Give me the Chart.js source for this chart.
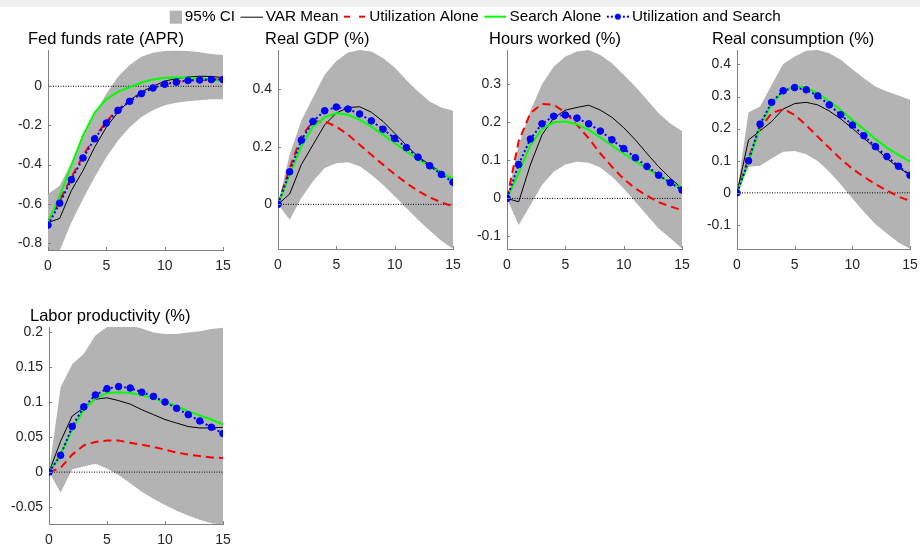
<!DOCTYPE html>
<html>
<head>
<meta charset="utf-8">
<script src="https://cdn.jsdelivr.net/npm/chart.js@4.4.0/dist/chart.umd.min.js"></script>
<style>
  body { margin: 0; background: #fff; width: 920px; height: 548px; position: relative; overflow: hidden; }
  #strip { position: absolute; left: 0; top: 0; width: 920px; height: 7px; background: #f0f0f0; }
  canvas { position: absolute; }
</style>
</head>
<body>
<div id="strip"></div>
<canvas id="legend" width="920" height="60" style="left:0;top:0"></canvas>
<canvas id="p1"></canvas>
<canvas id="p2"></canvas>
<canvas id="p3"></canvas>
<canvas id="p4"></canvas>
<canvas id="p5"></canvas>
<script>
// Impulse responses, horizons 0..15

const horizons = [0, 1, 2, 3, 4, 5, 6, 7, 8, 9, 10, 11, 12, 13, 14, 15];
const baseline = [0, 0, 0, 0, 0, 0, 0, 0, 0, 0, 0, 0, 0, 0, 0, 0];
const xTicks = [0, 5, 10, 15];

const legendLabels = ['95% CI', 'VAR Mean', 'Utilization Alone', 'Search Alone', 'Utilization and Search'];

// Fed funds rate (APR)
const ffrLow = [-0.92, -0.84, -0.696, -0.576, -0.465, -0.362, -0.277, -0.209, -0.157, -0.123, -0.097, -0.084, -0.077, -0.072, -0.067, -0.067];
const ffrHigh = [-0.55, -0.508, -0.39, -0.251, -0.14, -0.038, 0.048, 0.108, 0.15, 0.171, 0.18, 0.181, 0.18, 0.173, 0.164, 0.159];
const ffrVar = [-0.696, -0.675, -0.533, -0.431, -0.311, -0.209, -0.132, -0.072, -0.029, 0.0, 0.026, 0.039, 0.048, 0.051, 0.05, 0.044];
const ffrUtil = [-0.69, -0.585, -0.465, -0.355, -0.26, -0.18, -0.118, -0.073, -0.036, -0.008, 0.011, 0.022, 0.029, 0.032, 0.034, 0.035];
const ffrSearch = [-0.695, -0.56, -0.405, -0.251, -0.135, -0.067, -0.029, -0.005, 0.019, 0.034, 0.043, 0.044, 0.044, 0.04, 0.033, 0.027];
const ffrBoth = [-0.709, -0.597, -0.477, -0.366, -0.268, -0.188, -0.123, -0.077, -0.038, -0.009, 0.01, 0.021, 0.029, 0.032, 0.034, 0.034];
const ffrTicks = [-0.8, -0.6, -0.4, -0.2, 0];

// Real GDP (%)
const gdpLow = [0, -0.053, 0.022, 0.08, 0.126, 0.143, 0.146, 0.132, 0.103, 0.068, 0.028, -0.013, -0.053, -0.091, -0.126, -0.154];
const gdpHigh = [0, 0.172, 0.29, 0.371, 0.45, 0.498, 0.527, 0.536, 0.531, 0.508, 0.475, 0.432, 0.392, 0.357, 0.336, 0.325];
const gdpVar = [0, 0.036, 0.138, 0.207, 0.276, 0.317, 0.336, 0.339, 0.32, 0.288, 0.247, 0.205, 0.166, 0.138, 0.111, 0.086];
const gdpUtil = [0, 0.126, 0.236, 0.288, 0.288, 0.27, 0.242, 0.207, 0.172, 0.138, 0.105, 0.074, 0.047, 0.024, 0.007, -0.007];
const gdpSearch = [0, 0.103, 0.201, 0.27, 0.302, 0.317, 0.311, 0.294, 0.27, 0.242, 0.213, 0.184, 0.157, 0.132, 0.109, 0.089];
const gdpBoth = [0, 0.113, 0.223, 0.288, 0.325, 0.338, 0.331, 0.314, 0.29, 0.261, 0.229, 0.197, 0.164, 0.134, 0.104, 0.077];
const gdpTicks = [0, 0.2, 0.4];

// Hours worked (%)
const hrsLow = [0, -0.07, -0.018, 0.035, 0.07, 0.089, 0.096, 0.094, 0.081, 0.057, 0.026, -0.009, -0.044, -0.079, -0.105, -0.132];
const hrsHigh = [0, 0.14, 0.23, 0.3, 0.346, 0.373, 0.386, 0.39, 0.377, 0.355, 0.325, 0.294, 0.259, 0.224, 0.197, 0.177];
const hrsVar = [0, -0.009, 0.088, 0.167, 0.211, 0.232, 0.239, 0.245, 0.232, 0.213, 0.186, 0.154, 0.118, 0.083, 0.053, 0.026];
const hrsUtil = [0, 0.15, 0.224, 0.248, 0.246, 0.226, 0.193, 0.158, 0.118, 0.083, 0.051, 0.026, 0.007, -0.01, -0.021, -0.031];
const hrsSearch = [0, 0.066, 0.14, 0.182, 0.2, 0.202, 0.195, 0.18, 0.16, 0.139, 0.118, 0.098, 0.079, 0.06, 0.042, 0.026];
const hrsBoth = [0, 0.089, 0.156, 0.196, 0.216, 0.219, 0.211, 0.196, 0.177, 0.154, 0.131, 0.107, 0.084, 0.061, 0.041, 0.022];
const hrsTicks = [-0.1, 0, 0.1, 0.2, 0.3];

// Real consumption (%)
const conLow = [0, 0.081, 0.084, 0.107, 0.128, 0.13, 0.12, 0.099, 0.066, 0.026, -0.018, -0.059, -0.098, -0.127, -0.155, -0.174];
const conHigh = [0, 0.251, 0.269, 0.336, 0.401, 0.425, 0.443, 0.445, 0.435, 0.415, 0.385, 0.357, 0.331, 0.316, 0.303, 0.29];
const conVar = [0, 0.165, 0.193, 0.222, 0.261, 0.278, 0.282, 0.274, 0.255, 0.23, 0.201, 0.17, 0.139, 0.107, 0.078, 0.057];
const conUtil = [0, 0.107, 0.201, 0.248, 0.261, 0.243, 0.211, 0.175, 0.14, 0.105, 0.075, 0.05, 0.027, 0.007, -0.012, -0.025];
const conSearch = [0, 0.095, 0.206, 0.277, 0.316, 0.331, 0.328, 0.31, 0.286, 0.258, 0.227, 0.198, 0.168, 0.141, 0.118, 0.097];
const conBoth = [0, 0.1, 0.214, 0.282, 0.318, 0.328, 0.321, 0.302, 0.274, 0.243, 0.211, 0.178, 0.144, 0.113, 0.083, 0.055];
const conTicks = [-0.1, 0, 0.1, 0.2, 0.3, 0.4];

// Labor productivity (%)
const prodLow = [0, -0.029, 0.004, 0.008, 0.012, 0.005, -0.004, -0.016, -0.028, -0.038, -0.047, -0.055, -0.062, -0.068, -0.073, -0.075];
const prodHigh = [0, 0.121, 0.154, 0.169, 0.195, 0.207, 0.21, 0.209, 0.205, 0.199, 0.197, 0.197, 0.199, 0.201, 0.204, 0.206];
const prodVar = [0, 0.044, 0.08, 0.092, 0.104, 0.106, 0.102, 0.097, 0.089, 0.082, 0.075, 0.07, 0.065, 0.063, 0.063, 0.064];
const prodUtil = [0, 0.006, 0.025, 0.038, 0.043, 0.045, 0.045, 0.042, 0.039, 0.036, 0.032, 0.028, 0.025, 0.023, 0.021, 0.02];
const prodSearch = [0, 0.025, 0.061, 0.089, 0.105, 0.113, 0.114, 0.113, 0.11, 0.105, 0.1, 0.094, 0.087, 0.081, 0.075, 0.068];
const prodBoth = [0, 0.024, 0.065, 0.093, 0.11, 0.119, 0.122, 0.12, 0.114, 0.108, 0.1, 0.091, 0.082, 0.073, 0.064, 0.055];
const prodTicks = [-0.05, 0, 0.05, 0.1, 0.15, 0.2];

const FONT = '"Liberation Sans", Arial, Helvetica, sans-serif';
const TEXT = '#262626';
const AXIS = '#808080';
const CI_GRAY = '#b3b3b3';

// plot box of each panel, in page pixels
const panels = [
  { id: 'p1', title: 'Fed funds rate (APR)', left: 48, top: 50, width: 175, height: 200, titleLeft: 28, yMin: -0.836, yMax: 0.185, yTicks: ffrTicks,
    low: ffrLow, high: ffrHigh, mean: ffrVar, util: ffrUtil, search: ffrSearch, both: ffrBoth },
  { id: 'p2', title: 'Real GDP (%)', left: 278, top: 50, width: 175, height: 199, titleLeft: 265, yMin: -0.155, yMax: 0.536, yTicks: gdpTicks,
    low: gdpLow, high: gdpHigh, mean: gdpVar, util: gdpUtil, search: gdpSearch, both: gdpBoth },
  { id: 'p3', title: 'Hours worked (%)', left: 507, top: 50, width: 175, height: 199, titleLeft: 489, yMin: -0.133, yMax: 0.39, yTicks: hrsTicks,
    low: hrsLow, high: hrsHigh, mean: hrsVar, util: hrsUtil, search: hrsSearch, both: hrsBoth },
  { id: 'p4', title: 'Real consumption (%)', left: 737, top: 50, width: 173, height: 199, titleLeft: 712, yMin: -0.175, yMax: 0.445, yTicks: conTicks,
    low: conLow, high: conHigh, mean: conVar, util: conUtil, search: conSearch, both: conBoth },
  { id: 'p5', title: 'Labor productivity (%)', left: 49, top: 327, width: 174, height: 197, titleLeft: 30, yMin: -0.074, yMax: 0.207, yTicks: prodTicks,
    low: prodLow, high: prodHigh, mean: prodVar, util: prodUtil, search: prodSearch, both: prodBoth },
];

// subplot title, left-aligned a little left of the axes like the original figure
const panelTitle = {
  id: 'panelTitle',
  afterDraw(chart, args, opts) {
    const { ctx, chartArea } = chart;
    ctx.save();
    ctx.font = '16.5px ' + FONT;
    ctx.fillStyle = '#000';
    ctx.textAlign = 'left';
    ctx.textBaseline = 'middle';
    ctx.fillText(opts.text, chartArea.left + opts.dx, chartArea.top - 11);
    ctx.restore();
  }
};

// short inward tick marks, as on the original axes
const innerTicks = {
  id: 'innerTicks',
  afterDraw(chart) {
    const { ctx, chartArea, scales } = chart;
    ctx.save();
    ctx.strokeStyle = AXIS;
    ctx.lineWidth = 1;
    ctx.beginPath();
    scales.x.ticks.forEach(t => {
      const x = Math.round(scales.x.getPixelForValue(t.value)) + 0.5;
      ctx.moveTo(x, chartArea.bottom); ctx.lineTo(x, chartArea.bottom - 3);
    });
    scales.y.ticks.forEach(t => {
      const y = Math.round(scales.y.getPixelForValue(t.value)) + 0.5;
      ctx.moveTo(chartArea.left, y); ctx.lineTo(chartArea.left + 3, y);
    });
    ctx.stroke();
    ctx.restore();
  }
};

function renderPanel(p) {
  const canvas = document.getElementById(p.id);
  const yWidth = 48, titleH = 28, xH = 30, padRight = 18;
  canvas.width = yWidth + p.width + padRight;
  canvas.height = titleH + p.height + xH;
  canvas.style.left = (p.left - yWidth) + 'px';
  canvas.style.top = (p.top - titleH) + 'px';

  new Chart(canvas, {
    type: 'line',
    data: {
      labels: horizons,
      datasets: [
        { data: p.low, borderColor: 'rgba(0,0,0,0)', borderWidth: 0, pointRadius: 0, fill: false, order: 6 },
        { data: p.high, borderColor: 'rgba(0,0,0,0)', borderWidth: 0, pointRadius: 0, fill: '-1', backgroundColor: CI_GRAY, order: 5 },
        { data: baseline, borderColor: '#000', borderWidth: 1, borderDash: [1, 1.5], pointRadius: 0, order: 4 },
        { data: p.mean, borderColor: '#000', borderWidth: 1, pointRadius: 0, order: 3 },
        { data: p.util, borderColor: '#ff0000', borderWidth: 2, borderDash: [8, 5], pointRadius: 0, order: 2 },
        { data: p.search, borderColor: '#00ff00', borderWidth: 2, pointRadius: 0, order: 1 },
        { data: p.both, borderColor: '#0000ff', borderWidth: 2, borderDash: [2, 2.5], pointRadius: 3.3,
          pointBackgroundColor: '#0000ff', pointBorderColor: '#0000ff', pointBorderWidth: 1, order: 0 },
      ]
    },
    options: {
      responsive: false, animation: false, devicePixelRatio: 1,
      elements: { line: { tension: 0 } },
      layout: { padding: { left: 0, right: padRight, top: titleH, bottom: 0 } },
      plugins: {
        legend: { display: false },
        tooltip: { enabled: false },
        panelTitle: { text: p.title, dx: p.titleLeft - p.left }
      },
      scales: {
        x: {
          type: 'linear', min: 0, max: 15,
          grid: { display: false, drawTicks: false },
          border: { display: true, color: AXIS, width: 1 },
          afterBuildTicks: s => { s.ticks = xTicks.map(v => ({ value: v })); },
          afterFit: s => { s.height = xH; },
          ticks: { color: TEXT, font: { family: FONT, size: 14 }, padding: 8, maxRotation: 0, callback: v => String(v) }
        },
        y: {
          min: p.yMin, max: p.yMax,
          grid: { display: false, drawTicks: false },
          border: { display: true, color: AXIS, width: 1 },
          afterBuildTicks: s => { s.ticks = p.yTicks.map(v => ({ value: v })); },
          afterFit: s => { s.width = yWidth; },
          ticks: { color: TEXT, font: { family: FONT, size: 14 }, padding: 6, callback: v => String(v) }
        }
      }
    },
    plugins: [panelTitle, innerTicks]
  });
}

panels.forEach(renderPanel);

// legend icons drawn as small images, one per entry
function legendIcon(kind) {
  const c = document.createElement('canvas');
  c.width = 31; c.height = 16;
  const g = c.getContext('2d');
  const y = kind === 1 ? 8.5 : 8;
  if (kind === 0) {
    g.fillStyle = CI_GRAY;
    g.fillRect(19, 2, 12, 13);
    return c;
  }
  g.beginPath();
  g.moveTo(9, y); g.lineTo(31, y);
  if (kind === 1) { g.strokeStyle = '#000'; g.lineWidth = 1; }
  if (kind === 2) { g.strokeStyle = '#ff0000'; g.lineWidth = 2; g.setLineDash([6, 9]); }
  if (kind === 3) { g.strokeStyle = '#00ff00'; g.lineWidth = 2; }
  if (kind === 4) { g.strokeStyle = '#0000ff'; g.lineWidth = 2; g.setLineDash([2, 2]); }
  g.stroke();
  if (kind === 4) {
    g.setLineDash([]);
    g.fillStyle = '#0000ff';
    g.beginPath(); g.arc(20, y, 3, 0, Math.PI * 2); g.fill();
  }
  return c;
}
const legendIcons = legendLabels.map((t, i) => legendIcon(i));

new Chart(document.getElementById('legend'), {
  type: 'line',
  data: { datasets: [] },
  options: {
    responsive: false, animation: false, devicePixelRatio: 1,
    layout: { padding: { top: 8, left: 16 } },
    scales: { x: { display: false }, y: { display: false } },
    plugins: {
      tooltip: { enabled: false },
      legend: {
        display: true, position: 'top', align: 'center',
        labels: {
          usePointStyle: true, pointStyleWidth: 22, padding: 1, color: '#000',
          font: { family: FONT, size: 15.3 },
          generateLabels: () => legendLabels.map((t, i) => ({
            text: t, pointStyle: legendIcons[i], fillStyle: 'rgba(0,0,0,0)', strokeStyle: 'rgba(0,0,0,0)',
            lineWidth: 0, hidden: false, fontColor: '#000', datasetIndex: i
          }))
        }
      }
    }
  }
});
</script>
</body>
</html>
